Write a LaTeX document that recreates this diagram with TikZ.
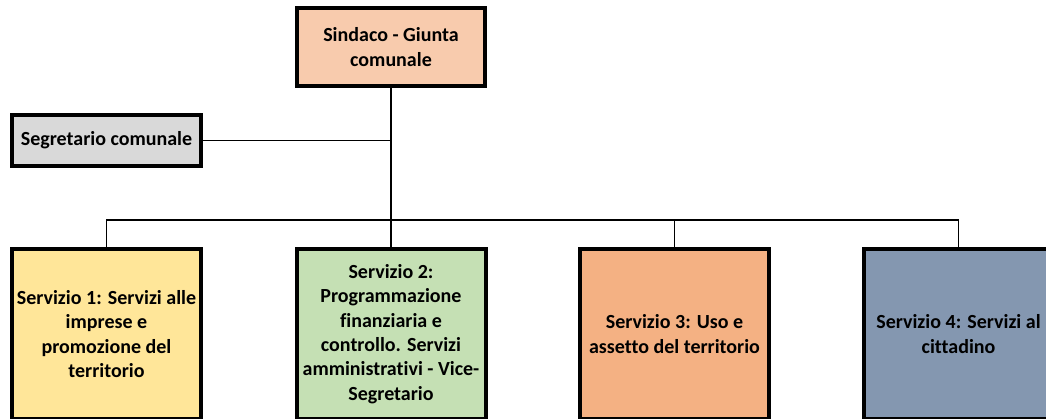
\documentclass[tikz,border=0pt]{standalone}
\usepackage{fontspec}
\setmainfont{Carlito}[Ligatures=NoCommon]
\usetikzlibrary{positioning}

\definecolor{sindacofill}{HTML}{F8CBAD}
\definecolor{segrfill}{HTML}{D9D9D9}
\definecolor{uno}{HTML}{FFE699}
\definecolor{due}{HTML}{C5E0B4}
\definecolor{tre}{HTML}{F4B183}
\definecolor{quattro}{HTML}{8497B0}

\begin{document}
\begin{tikzpicture}[x=1pt,y=-1pt,line width=1.7pt,
                    font=\fontsize{20}{24.4}\selectfont\bfseries]
  \tikzstyle{box}=[draw,line width=4pt,align=center,inner sep=0pt]
  \tikzstyle{servizio}=[box,minimum width=189pt,minimum height=170pt]

  \useasboundingbox (0,0) rectangle (1046,418);
  \clip (0,0) rectangle (1046,418);

  \node[box,fill=sindacofill,minimum width=188pt,minimum height=78pt] (sindaco) at (391,47) {Sindaco - Giunta\\comunale};
  \node[box,fill=segrfill,minimum width=189pt,minimum height=51pt] (segretario) at (106.5,140.5) {Segretario comunale};

  \node[servizio,fill=uno]     (s1) at (106.5,334) {Servizio 1: Servizi alle\\imprese e\\promozione del\\territorio};
  \node[servizio,fill=due]     (s2) at (391,334)   {Servizio 2:\\Programmazione\\finanziaria e\\controllo. Servizi\\amministrativi - Vice-\\Segretario};
  \node[servizio,fill=tre]     (s3) at (674.5,334) {Servizio 3: Uso e\\assetto del territorio};
  \node[servizio,fill=quattro] (s4) at (958.5,334) {Servizio 4: Servizi al\\cittadino};

  \coordinate (bus) at (391,220);

  \path (sindaco) edge (bus)
        (segretario) edge (segretario -| sindaco);
  \foreach \s in {s1,s2,s3,s4}
    \draw (bus) -| (\s);
\end{tikzpicture}
\end{document}
